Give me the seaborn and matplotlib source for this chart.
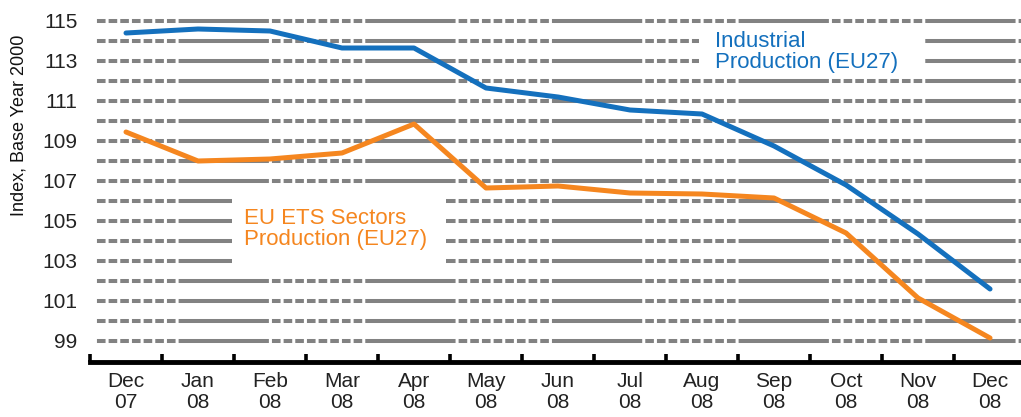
import numpy as np
import pandas as pd
import matplotlib
matplotlib.use("Agg")
import matplotlib.pyplot as plt
from matplotlib.ticker import FixedLocator
from matplotlib.patches import Rectangle
import seaborn as sns

sns.set_style("white")
plt.rcParams['font.family'] = ['Liberation Sans Narrow', 'Liberation Sans', 'DejaVu Sans']
plt.rcParams['lines.scale_dashes'] = False

# data
months = ["Dec\n07", "Jan\n08", "Feb\n08", "Mar\n08", "Apr\n08", "May\n08", "Jun\n08",
          "Jul\n08", "Aug\n08", "Sep\n08", "Oct\n08", "Nov\n08", "Dec\n08"]
industrial = [114.4, 114.6, 114.5, 113.65, 113.65, 111.65, 111.2, 110.55, 110.35,
              108.75, 106.8, 104.35, 101.6]
ets_sectors = [109.45, 108.0, 108.1, 108.4, 109.85, 106.65, 106.75, 106.4, 106.35,
               106.15, 104.4, 101.15, 99.15]
y_labels = [99, 101, 103, 105, 107, 109, 111, 113, 115]
y_grid = list(range(99, 116))

blue = "#1470bd"
orange = "#f5861f"
grid_grey = "#828282"

df = pd.DataFrame({
    "pos": list(range(len(months))) * 2,
    "value": industrial + ets_sectors,
    "series": ["Industrial Production (EU27)"] * len(months)
              + ["EU ETS Sectors Production (EU27)"] * len(months),
})

fig = plt.figure(figsize=(10.21, 4.17), dpi=100)
ax = fig.add_axes([90 / 1021, (417 - 362) / 417, (1021 - 90) / 1021, 362 / 417])

sns.lineplot(data=df, x="pos", y="value", hue="series",
             palette={"Industrial Production (EU27)": blue,
                      "EU ETS Sectors Production (EU27)": orange},
             linewidth=3.6, legend=False, ax=ax, zorder=4)

# grey gridlines: runs of short dashes alternating with long solid pieces
pattern = (6.2, 2.2) * 8 + (65.0, 2.2)
for v in y_grid:
    ax.axhline(v, xmin=0.005, xmax=1, color=grid_grey, linewidth=2.9,
               linestyle=(7, pattern), zorder=1)

ax.set_xlim(-0.5, 12.43)
ax.set_ylim(97.95, 116.05)

ax.set_xticks(range(len(months)))
ax.set_xticklabels(months, fontsize=15, linespacing=1.15)
ax.xaxis.set_minor_locator(FixedLocator(np.arange(-0.5, 12.5, 1.0)))
ax.tick_params(axis="x", which="both", bottom=True)
ax.tick_params(axis="x", which="major", length=0, pad=7, colors="#222222")
ax.tick_params(axis="x", which="minor", direction="in", length=6, width=2.6,
               color="black")

ax.set_yticks(y_labels)
ax.set_yticklabels([str(v) for v in y_labels], fontsize=15)
ax.tick_params(axis="y", length=0, pad=9, colors="#222222")

ax.set_xlabel("")
ax.set_ylabel("Index, Base Year 2000", fontsize=13, color="#111111")
ax.yaxis.set_label_coords(-0.067, 0.655)

for side in ["left", "right", "top"]:
    ax.spines[side].set_visible(False)
ax.spines["bottom"].set_linewidth(3.5)
ax.spines["bottom"].set_color("black")
ax.spines["bottom"].set_zorder(5)

# white boxes behind the series labels that break the gridlines
ax.add_patch(Rectangle((7.96, 112.35), 3.14, 2.2, facecolor="white",
                       edgecolor="none", zorder=2))
ax.add_patch(Rectangle((1.47, 102.4), 2.98, 4.2, facecolor="white",
                       edgecolor="none", zorder=2))

ax.text(8.18, 113.45, "Industrial\nProduction (EU27)", color=blue, fontsize=16,
        ha="left", va="center", linespacing=1.0, zorder=3)
ax.text(1.64, 104.6, "EU ETS Sectors\nProduction (EU27)", color=orange, fontsize=16,
        ha="left", va="center", linespacing=1.05, zorder=3)

fig.savefig("out.png", dpi=100)
